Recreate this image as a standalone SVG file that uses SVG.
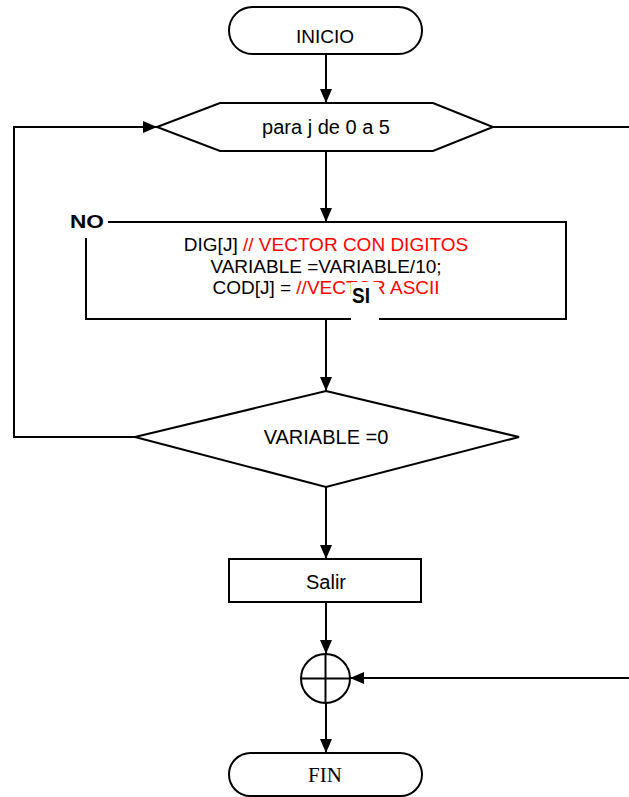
<svg xmlns="http://www.w3.org/2000/svg" width="629" height="797" viewBox="0 0 629 797">
<defs>
<marker id="arr" viewBox="0 0 14 12" refX="14" refY="6" markerWidth="14" markerHeight="12" markerUnits="userSpaceOnUse" orient="auto">
<path d="M0,0 L14,6 L0,12 Z" fill="#000"/>
</marker>
<style>
.s{fill:#fff;stroke:#000;stroke-width:2}
.l{fill:none;stroke:#000;stroke-width:2}
.t{font-family:"Liberation Sans",Arial,sans-serif;font-size:19px;fill:#000;text-anchor:middle}
.r{fill:#ff0000}
.b{font-family:"Liberation Sans",Arial,sans-serif;font-weight:bold;font-size:19px;fill:#000}
.tm{font-family:"Liberation Serif","Times New Roman",serif;font-size:21px;fill:#000;text-anchor:middle}
</style>
</defs>
<rect width="629" height="797" fill="#fff"/>
<g id="connectors">
<path class="l" d="M326,54 V103" marker-end="url(#arr)"/>
<path class="l" d="M326,151 V222" marker-end="url(#arr)"/>
<path class="l" d="M326,319 V391" marker-end="url(#arr)"/>
<path class="l" d="M326,487 V559" marker-end="url(#arr)"/>
<path class="l" d="M326,602 V654" marker-end="url(#arr)"/>
<path class="l" d="M326,703 V753" marker-end="url(#arr)"/>
<path class="l" d="M135,437 H14 V127 H157" marker-end="url(#arr)"/>
<path class="l" d="M493,127 H629"/>
<path class="l" d="M629,678 H350" marker-end="url(#arr)"/>
</g>
<g id="inicio">
<rect class="s" x="229" y="7" width="193" height="47" rx="23.5"/>
<text class="t" x="325" y="43">INICIO</text>
</g>
<g id="para">
<polygon class="s" points="157,127 220,103 433,103 493,127 433,151 220,151"/>
<text class="t" x="326" y="134" style="font-size:20px">para j de 0 a 5</text>
</g>
<g id="proceso">
<rect class="s" x="86" y="222" width="480" height="97"/>
<text class="t" x="326" y="251">DIG[J] <tspan class="r">// VECTOR CON DIGITOS</tspan></text>
<text class="t" x="326" y="272.5">VARIABLE =VARIABLE/10;</text>
<text class="t" x="326" y="294">COD[J] = <tspan class="r">//VECTOR ASCII</tspan></text>
</g>
<g id="label-no">
<rect x="68" y="206" width="40" height="32" fill="#fff"/>
<text class="b" x="70" y="227.5" textLength="34" lengthAdjust="spacingAndGlyphs">NO</text>
</g>
<g id="label-si">
<rect x="351" y="282" width="28" height="38" fill="#fff"/>
<text class="b" x="352" y="303" transform="translate(0,-60.6) scale(1,1.2)">SI</text>
</g>
<g id="decision">
<polygon class="s" points="326,391 519,437 326,487 135,437"/>
<text class="t" x="326" y="444" style="font-size:20px">VARIABLE =0</text>
</g>
<g id="salir">
<rect class="s" x="229" y="559" width="192" height="43"/>
<text class="t" x="326" y="589" style="font-size:20px">Salir</text>
</g>
<g id="conector">
<circle class="s" cx="325.5" cy="678.5" r="24.5"/>
<path class="l" d="M301,678.5 H350 M325.5,654 V703"/>
</g>
<g id="fin">
<rect class="s" x="229" y="753" width="193" height="43" rx="21.5"/>
<text class="tm" x="325" y="782">FIN</text>
</g>
</svg>
